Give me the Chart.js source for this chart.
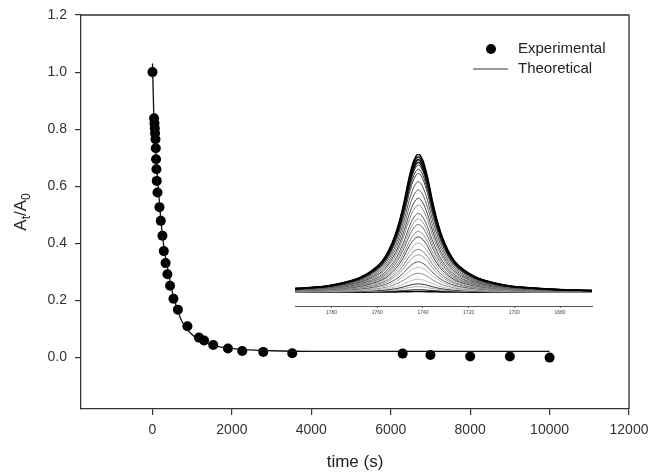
<!DOCTYPE html>
<html lang="en">
<head>
  <meta charset="UTF-8">
  <title>Absorbance decay</title>
  <script src="https://cdn.jsdelivr.net/npm/chart.js"></script>
  <style>
    body {
      margin: 0;
      padding: 0;
      background: #fff;
    }

    .wrap {
      position: relative;
      width: 651px;
      height: 473px;
    }

    #inset {
      position: absolute;
      left: 280px;
      top: 150px;
    }
  </style>
</head>
<body>
  <div class="wrap">
    <canvas id="mainChart" width="651" height="473"></canvas>
    <canvas id="inset" width="330" height="175"></canvas>
  </div>

  <script>
    // main plot data
    const expTime = [0, 40, 50, 58, 65, 75, 83, 90, 100, 108, 126, 176, 209, 251, 285, 330, 377, 442, 528, 640,
      880, 1170, 1300, 1530, 1900, 2260, 2790, 3520, 6300, 7000, 8000, 9000, 10000];
    const expValue = [1.0, 0.838, 0.82, 0.803, 0.786, 0.765, 0.733, 0.695, 0.66, 0.619, 0.578, 0.527, 0.479, 0.427, 0.373, 0.331, 0.292, 0.252, 0.206, 0.168,
      0.11, 0.07, 0.06, 0.044, 0.032, 0.023, 0.02, 0.015, 0.014, 0.009, 0.004, 0.004, 0.0];

    const theoTime = [0, 35, 60, 100, 150, 200, 250, 300, 400, 500, 600, 700, 800, 1000, 1200, 1500, 1900, 2300, 3000, 4000, 10000];
    const theoValue = [1.03, 0.84, 0.79, 0.68, 0.59, 0.50, 0.43, 0.375, 0.30, 0.23, 0.18, 0.14, 0.113, 0.08, 0.06, 0.044, 0.034, 0.028, 0.024, 0.022, 0.022];

    const xTicks = [0, 2000, 4000, 6000, 8000, 10000, 12000];
    const yTicks = [0, 0.2, 0.4, 0.6, 0.8, 1.0, 1.2];

    // inset spectra: one peak profile and the heights of the stacked spectra
    const waveNumber = [1796, 1792, 1782, 1777, 1772, 1767, 1762, 1758, 1755, 1752, 1750, 1748, 1746, 1744, 1742,
      1740, 1738, 1736, 1734, 1732, 1729, 1726, 1722, 1717, 1712, 1707, 1702, 1692, 1682, 1666];
    const peakProfile = [0.026, 0.03, 0.045, 0.06, 0.08, 0.11, 0.16, 0.22, 0.30, 0.42, 0.53, 0.67, 0.83, 0.95, 1.0,
      0.95, 0.83, 0.67, 0.53, 0.42, 0.30, 0.22, 0.16, 0.11, 0.08, 0.06, 0.045, 0.03, 0.02, 0.012];
    const insetHeights = [1.0, 0.98, 0.96, 0.94, 0.92, 0.89, 0.86, 0.8, 0.74, 0.68, 0.63, 0.57, 0.53, 0.49, 0.44,
      0.40, 0.355, 0.31, 0.27, 0.22, 0.18, 0.137, 0.093, 0.06, 0.04, 0.018, 0.005];
    const insetShades = ['#000', '#111', '#000', '#1a1a1a', '#222', '#333', '#444', '#555', '#666', '#444', '#888', '#555', '#999', '#666',
      '#888', '#444', '#aaa', '#777', '#999', '#555', '#bbb', '#888', '#bbb', '#333', '#aaa', '#222', '#000'];
    const insetTicks = [1780, 1760, 1740, 1720, 1700, 1680];

    const FONT = "'Liberation Sans', Arial, sans-serif";

    // frame on top/right, y title with subscripts, legend
    const decorations = {
      id: 'decorations',
      afterDraw(chart) {
        const ctx = chart.ctx;
        const a = chart.chartArea;
        ctx.save();
        ctx.strokeStyle = '#333';
        ctx.lineWidth = 1.3;
        ctx.beginPath();
        ctx.moveTo(a.left, a.top);
        ctx.lineTo(a.right, a.top);
        ctx.lineTo(a.right, a.bottom);
        ctx.stroke();

        // y title  A_t / A_0
        ctx.fillStyle = '#222';
        ctx.textBaseline = 'alphabetic';
        const big = '17px ' + FONT, small = '12px ' + FONT;
        const parts = [['A', big, 0], ['t', small, 4], ['/A', big, 0], ['0', small, 4]];
        let total = 0;
        parts.forEach(p => { ctx.font = p[1]; total += ctx.measureText(p[0]).width; });
        ctx.translate(26, (a.top + a.bottom) / 2);
        ctx.rotate(-Math.PI / 2);
        let x = -total / 2;
        parts.forEach(p => {
          ctx.font = p[1];
          ctx.fillText(p[0], x, p[2]);
          x += ctx.measureText(p[0]).width;
        });
        ctx.restore();

        // legend
        ctx.save();
        ctx.fillStyle = '#000';
        ctx.beginPath();
        ctx.arc(491, 49, 5, 0, Math.PI * 2);
        ctx.fill();
        ctx.strokeStyle = '#333';
        ctx.lineWidth = 1.2;
        ctx.beginPath();
        ctx.moveTo(473, 69);
        ctx.lineTo(508, 69);
        ctx.stroke();
        ctx.fillStyle = '#222';
        ctx.font = '15px ' + FONT;
        ctx.textBaseline = 'middle';
        ctx.fillText('Experimental', 518, 49);
        ctx.fillText('Theoretical', 518, 69);
        ctx.restore();
      }
    };

    new Chart(document.getElementById('mainChart'), {
      type: 'scatter',
      data: {
        datasets: [
          {
            label: 'Theoretical',
            data: theoTime.map((t, i) => ({ x: t, y: theoValue[i] })),
            showLine: true,
            borderColor: '#111',
            borderWidth: 1.3,
            pointRadius: 0,
            cubicInterpolationMode: 'monotone'
          },
          {
            label: 'Experimental',
            data: expTime.map((t, i) => ({ x: t, y: expValue[i] })),
            backgroundColor: '#000',
            borderColor: '#000',
            pointRadius: 5,
            pointBorderWidth: 0
          }
        ]
      },
      options: {
        responsive: false,
        animation: false,
        layout: { padding: { top: 15, right: 22, left: 0, bottom: 0 } },
        plugins: {
          legend: { display: false },
          tooltip: { enabled: false }
        },
        scales: {
          x: {
            type: 'linear',
            min: -1800,
            max: 12000,
            afterBuildTicks: s => { s.ticks = xTicks.map(v => ({ value: v })); },
            afterFit: s => { s.height = 64; s.paddingLeft = 0; s.paddingRight = 0; },
            grid: { drawOnChartArea: false, tickLength: 6, color: '#333', lineWidth: 1.2 },
            border: { color: '#333', width: 1.3 },
            ticks: {
              callback: v => String(v),
              font: { family: FONT, size: 14 },
              color: '#333',
              padding: 7,
              maxRotation: 0
            },
            title: {
              display: true,
              text: 'time (s)',
              font: { family: FONT, size: 17 },
              color: '#222',
              padding: { top: 0, bottom: 0 }
            }
          },
          y: {
            min: -0.18,
            max: 1.2,
            afterBuildTicks: s => { s.ticks = yTicks.map(v => ({ value: v })); },
            afterFit: s => { s.width = 81; s.paddingTop = 0; s.paddingBottom = 0; },
            grid: { drawOnChartArea: false, tickLength: 6, color: '#333', lineWidth: 1.2 },
            border: { color: '#333', width: 1.3 },
            ticks: {
              callback: v => v.toFixed(1),
              font: { family: FONT, size: 14 },
              color: '#333',
              padding: 8
            }
          }
        }
      },
      plugins: [decorations]
    });

    // inset with the stacked carbonyl band spectra
    new Chart(document.getElementById('inset'), {
      type: 'scatter',
      data: {
        datasets: insetHeights.map((h, k) => ({
          data: waveNumber.map((w, i) => ({ x: w, y: peakProfile[i] * h })),
          showLine: true,
          borderColor: insetShades[k],
          borderWidth: k < 4 || k === insetHeights.length - 1 ? 1.6 : 1,
          pointRadius: 0,
          cubicInterpolationMode: 'monotone'
        }))
      },
      options: {
        responsive: false,
        animation: false,
        layout: { padding: { top: 4, right: 18, left: 15, bottom: 0 } },
        plugins: {
          legend: { display: false },
          tooltip: { enabled: false }
        },
        scales: {
          x: {
            type: 'linear',
            reverse: true,
            min: 1666,
            max: 1796,
            afterBuildTicks: s => { s.ticks = insetTicks.map(v => ({ value: v })); },
            afterFit: s => { s.height = 19; s.paddingLeft = 0; s.paddingRight = 0; },
            grid: { drawOnChartArea: false, tickLength: 2, color: '#666' },
            border: { color: '#555', width: 1 },
            ticks: {
              callback: v => String(v),
              font: { family: FONT, size: 5 },
              color: '#444',
              padding: 2,
              maxRotation: 0
            }
          },
          y: {
            display: false,
            min: -0.1,
            max: 1.0
          }
        }
      }
    });
  </script>
</body>
</html>
